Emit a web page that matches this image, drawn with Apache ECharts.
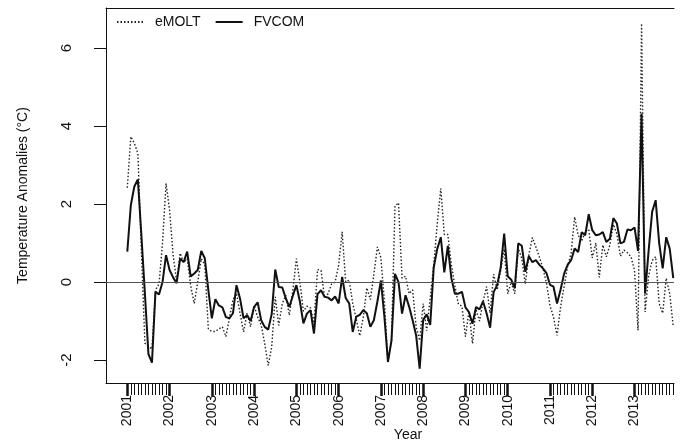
<!DOCTYPE html>
<html><head><meta charset="utf-8">
<script src="https://cdn.jsdelivr.net/npm/echarts@6/dist/echarts.min.js"></script>
<style>html,body{margin:0;padding:0;background:#fff}#c{width:681px;height:441px}</style>
</head><body><div id="c"></div>
<script>
const startYear = 2001;
const yearTicks = [2001,2002,2003,2004,2005,2006,2007,2008,2009,2010,2011,2012,2013];
const monthTickYears = [2001,2003,2005,2007,2009,2011,2013];
const yTicks = [-2,0,2,4,6];

const eMOLT = [
 2.42,3.73,3.56,3.3,0.8,-1.57,-1.65,-1.72,-0.2,-0.05,1.0,2.53,
 1.85,0.7,0.02,0.74,0.5,0.6,-0.1,-0.55,0.0,0.6,0.45,-1.2,
 -1.27,-1.27,-1.2,-1.15,-1.4,-0.92,-0.45,-0.29,-0.8,-1.28,-0.8,-1.15,
 -0.6,-0.9,-1.1,-1.57,-2.14,-1.66,-0.38,-1.11,-0.55,-0.34,-0.85,-0.21,
 0.6,0.0,-0.75,-0.62,-0.66,-1.05,0.32,0.3,-0.4,-0.3,-0.05,0.0,
 0.44,1.29,0.0,0.05,-0.55,-0.95,-1.38,-0.9,-0.15,-0.45,0.2,0.9,
 0.62,-0.5,-2.07,-1.5,1.95,2.03,0.1,0.15,-0.3,-0.2,-1.15,-1.5,
 -0.55,-1.25,-0.4,0.45,1.5,2.4,1.22,1.22,0.45,-0.1,-0.57,-0.62,
 -1.4,-0.75,-1.58,-0.7,-1.0,-0.5,-0.12,-0.8,0.2,-0.2,0.3,0.85,
 -0.3,0.0,-0.3,0.87,0.6,-0.05,0.7,1.14,0.9,0.64,0.35,-0.03,
 -0.6,-0.9,-1.37,-0.64,-0.12,0.4,0.74,1.67,1.2,1.05,1.3,1.35,
 0.62,1.0,0.12,0.95,0.65,0.95,1.48,1.23,0.66,0.82,0.75,0.65,
 0.3,-1.24,6.63,-0.77,0.15,0.55,0.65,-0.55,-0.8,0.1,-0.3,-1.15
];
const FVCOM = [
 0.78,1.97,2.45,2.63,1.2,-0.3,-1.85,-2.07,-0.25,-0.32,0.0,0.69,
 0.31,0.12,-0.03,0.6,0.51,0.78,0.14,0.22,0.31,0.8,0.61,-0.2,
 -0.93,-0.44,-0.6,-0.65,-0.9,-0.93,-0.8,-0.08,-0.42,-0.93,-0.85,-1.0,
 -0.64,-0.52,-0.98,-1.15,-1.22,-0.82,0.32,-0.13,-0.14,-0.42,-0.64,-0.35,
 -0.08,-0.5,-1.06,-0.81,-0.72,-1.32,-0.31,-0.21,-0.38,-0.4,-0.47,-0.37,
 -0.55,0.13,-0.41,-0.55,-1.28,-0.89,-0.84,-0.72,-0.8,-1.15,-0.98,-0.5,
 0.04,-0.9,-2.05,-1.5,0.21,0.0,-0.81,-0.34,-0.63,-0.98,-1.37,-2.22,
 -0.97,-0.83,-1.1,0.38,0.85,1.15,0.25,0.93,0.1,-0.3,-0.3,-0.25,
 -0.65,-0.77,-1.07,-0.64,-0.7,-0.5,-0.8,-1.17,-0.26,-0.08,0.37,1.24,
 0.15,0.06,-0.16,0.99,0.93,0.26,0.66,0.51,0.56,0.44,0.35,0.23,
 -0.07,-0.12,-0.55,-0.2,0.21,0.44,0.56,0.86,0.77,1.28,1.2,1.74,
 1.33,1.2,1.22,1.28,1.03,1.11,1.64,1.5,0.99,1.03,1.35,1.33,
 1.4,0.8,4.32,-0.3,0.8,1.8,2.1,1.0,0.35,1.15,0.85,0.1
];

const toPairs = arr => arr.map((v, i) => [startYear + i / 12, v]);
const monthTicks = monthTickYears.flatMap(y => Array.from({length: 11}, (_, k) => y + (k + 1) / 12));

const FONT = 'Liberation Sans, Arial, sans-serif';
const X_MIN = 2000.496, X_MAX = 2013.934;

const chart = echarts.init(document.getElementById('c'), null, {renderer: 'canvas'});
chart.setOption({
  animation: false,
  backgroundColor: '#fff',
  textStyle: {fontFamily: FONT, color: '#111'},
  grid: {left: 106, top: 8, width: 568, height: 375, containLabel: false, outerBoundsMode: 'none'},
  legend: {
    data: ['eMOLT', 'FVCOM'],
    left: 111, top: 10,
    itemWidth: 27, itemHeight: 14, itemGap: 14,
    itemStyle: {opacity: 0},
    textStyle: {fontFamily: FONT, fontSize: 14, color: '#111', padding: [0, 0, 0, 6]}
  },
  xAxis: [
    {
      type: 'value', min: X_MIN, max: X_MAX, position: 'bottom',
      axisLine: {show: true, onZero: false, lineStyle: {color: '#111', width: 1}},
      axisTick: {show: true, customValues: yearTicks, length: 13, lineStyle: {color: '#111', width: 2.5}},
      axisLabel: {customValues: yearTicks, rotate: 90, margin: 12, fontSize: 14, color: '#111', fontFamily: FONT,
                  formatter: v => String(Math.round(v))},
      splitLine: {show: false},
      name: 'Year', nameLocation: 'middle', nameGap: 45, nameMoveOverlap: false,
      nameTextStyle: {fontSize: 14, color: '#111', fontFamily: FONT, padding: [0, 0, 0, 36]}
    },
    {
      type: 'value', min: X_MIN, max: X_MAX, position: 'bottom',
      axisLine: {show: false, onZero: false},
      axisTick: {show: true, customValues: monthTicks, length: 12, lineStyle: {color: '#111', width: 1}},
      axisLabel: {show: false},
      splitLine: {show: false}
    },
    {
      type: 'value', min: X_MIN, max: X_MAX, position: 'top',
      axisLine: {show: true, onZero: false, lineStyle: {color: '#111', width: 1}},
      axisTick: {show: false}, axisLabel: {show: false}, splitLine: {show: false}
    }
  ],
  yAxis: {
    type: 'value', min: -2.59, max: 7.03,
    axisLine: {show: true, onZero: false, lineStyle: {color: '#111', width: 1}},
    axisTick: {show: true, customValues: yTicks, length: 12, lineStyle: {color: '#111', width: 1}},
    axisLabel: {customValues: yTicks, rotate: 90, margin: 32, fontSize: 15, color: '#111', fontFamily: FONT,
                formatter: v => String(v)},
    splitLine: {show: false},
    name: 'Temperature Anomalies (°C)', nameLocation: 'middle', nameRotate: 90, nameGap: 76, nameMoveOverlap: false,
    nameTextStyle: {fontSize: 14, color: '#111', fontFamily: FONT}
  },
  series: [
    {
      name: 'eMOLT', type: 'line', xAxisIndex: 0, symbol: 'none',
      data: toPairs(eMOLT),
      lineStyle: {color: '#222', width: 1.4, type: [1.5, 2]},
      itemStyle: {color: '#222'}, z: 2
    },
    {
      name: 'FVCOM', type: 'line', xAxisIndex: 0, symbol: 'none',
      data: toPairs(FVCOM),
      lineStyle: {color: '#111', width: 2, type: 'solid'},
      itemStyle: {color: '#111'}, z: 3,
      markLine: {
        silent: true, symbol: 'none', label: {show: false},
        lineStyle: {color: '#555', width: 1, type: 'solid'},
        data: [{yAxis: 0}]
      }
    }
  ]
});
</script>
</body></html>
